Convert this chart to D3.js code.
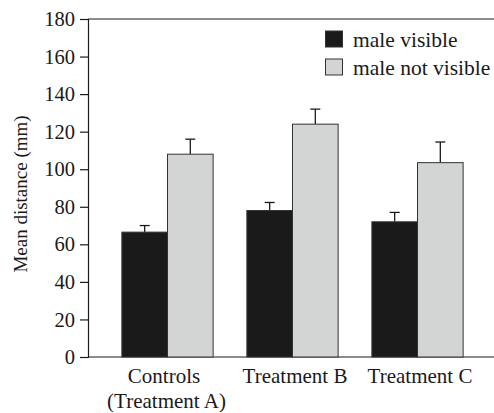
<!DOCTYPE html>
<html><head><meta charset="utf-8">
<script src="https://cdn.jsdelivr.net/npm/d3@7"></script>
</head><body style="margin:0;background:#fff">
<svg id="c" width="494" height="413"></svg>
<script>
const groups = ["Controls (Treatment A)", "Treatment B", "Treatment C"];
const groupLines = [["Controls", "(Treatment A)"], ["Treatment B"], ["Treatment C"]];
const seriesNames = ["male visible", "male not visible"];
const visibleMeans = [66.5, 78, 72];
const visibleErr = [3.5, 4.3, 5];
const notVisibleMeans = [108, 124, 103.5];
const notVisibleErr = [8, 8, 11];
const yTicks = [0, 20, 40, 60, 80, 100, 120, 140, 160, 180];
const colors = ["#1a1a1a", "#d3d5d4"];

const FONT = "'Liberation Serif', 'Times New Roman', Times, serif";
const svg = d3.select("#c");
const y = d3.scaleLinear().domain([0, 180]).range([357, 19]);
const x = d3.scaleBand().domain(groups).range([105, 480]).paddingInner(0.27).paddingOuter(0.135);
const xs = d3.scaleBand().domain(seriesNames).range([0, x.bandwidth()]);

function styleText(sel, size) {
  return sel.style("font-family", FONT).style("font-size", size + "px").style("fill", "#1a1a1a");
}

// axes
const yAxis = d3.axisLeft(y).tickValues(yTicks).tickSize(8).tickPadding(5).tickFormat(d3.format("d"));
const gy = svg.append("g").attr("transform", "translate(88,0)").call(yAxis);
gy.attr("font-family", null).attr("font-size", null);
gy.select(".domain").attr("stroke", "#1a1a1a").attr("stroke-width", 1.2);
gy.selectAll(".tick line").attr("stroke", "#1a1a1a").attr("stroke-width", 1.2);
styleText(gy.selectAll(".tick text"), 20.5);

// top and bottom lines
svg.append("line").attr("x1", 88).attr("x2", 494).attr("y1", y(180)).attr("y2", y(180)).attr("stroke", "#1a1a1a").attr("stroke-width", 1.2);
svg.append("line").attr("x1", 88).attr("x2", 494).attr("y1", y(0)).attr("y2", y(0)).attr("stroke", "#1a1a1a").attr("stroke-width", 1.2);

const data = groups.map((g, i) => [
  {g, s: seriesNames[0], v: visibleMeans[i], e: visibleErr[i], c: colors[0]},
  {g, s: seriesNames[1], v: notVisibleMeans[i], e: notVisibleErr[i], c: colors[1]}
]).flat();

const bars = svg.append("g");
data.forEach(d => {
  const cx = x(d.g) + xs(d.s) + xs.bandwidth() / 2;
  bars.append("line").attr("x1", cx).attr("x2", cx).attr("y1", y(d.v)).attr("y2", y(d.v + d.e)).attr("stroke", "#1a1a1a").attr("stroke-width", 1.3);
  bars.append("line").attr("x1", cx - 5).attr("x2", cx + 5).attr("y1", y(d.v + d.e)).attr("y2", y(d.v + d.e)).attr("stroke", "#1a1a1a").attr("stroke-width", 1.3);
});
bars.selectAll("rect").data(data).join("rect")
  .attr("x", d => x(d.g) + xs(d.s))
  .attr("width", xs.bandwidth())
  .attr("y", d => y(d.v))
  .attr("height", d => y(0) - y(d.v))
  .attr("fill", d => d.c)
  .attr("stroke", "#333")
  .attr("stroke-width", 1);

// x labels
groups.forEach((g, i) => {
  const cx = x(g) + x.bandwidth() / 2;
  groupLines[i].forEach((t, j) => {
    const dx = groupLines[i].length > 1 ? (j === 0 ? -3.5 : -1) : 2.5;
    styleText(svg.append("text").attr("x", cx + dx).attr("y", 383 + j * 25)
      .attr("text-anchor", "middle"), 21).text(t);
  });
});

// y label
styleText(svg.append("text").attr("transform", "translate(27,194) rotate(-90)").attr("text-anchor", "middle"), 19)
  .text("Mean distance (mm)");

// legend
seriesNames.forEach((s, i) => {
  const ly = 31 + i * 28;
  svg.append("rect").attr("x", 325.5).attr("y", ly).attr("width", 17).attr("height", 16)
    .attr("fill", colors[i]).attr("stroke", "#333").attr("stroke-width", 1);
  styleText(svg.append("text").attr("x", 353).attr("y", ly + 15.5), 21.5).text(s);
});
</script>
</body></html>
